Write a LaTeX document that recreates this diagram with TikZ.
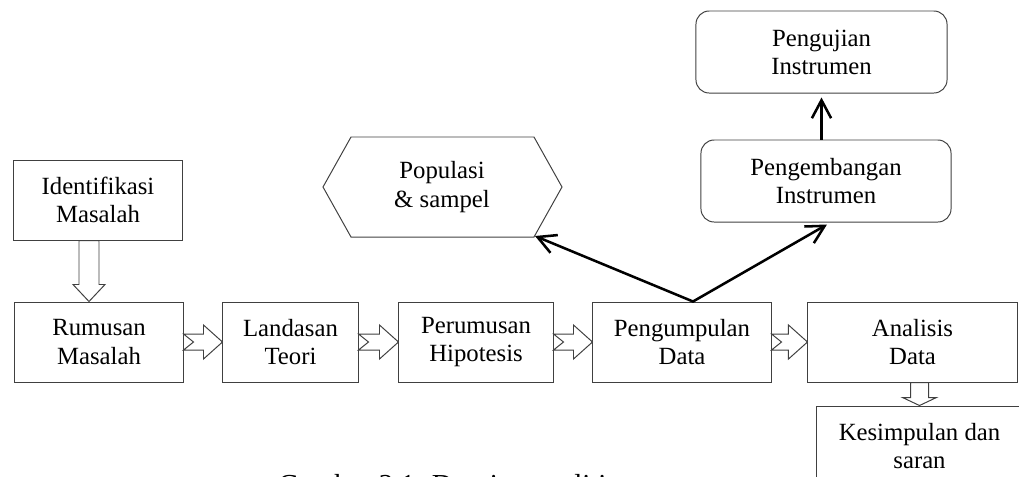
\documentclass[tikz,border=0pt]{standalone}
\usepackage{fontspec}
\setmainfont{Liberation Serif}
\usetikzlibrary{arrows.meta,calc}

% hollow block arrow with notched tail, from east of #1 to west of #2
\newcommand{\panahkanan}[2]{%
  \draw[blok] ($(#1.east)+(0,-8)$) -- ($(#2.west)+(-19,-8)$) -- ++(0,-9) -- (#2.west)
    -- ($(#2.west)+(-19,17)$) -- ++(0,-9) -- ($(#1.east)+(0,8)$) -- ($(#1.east)+(10,0)$) -- cycle;}

\begin{document}
\begin{tikzpicture}[x=0.025cm,y=-0.025cm,
  kotak/.style={draw=black!75,line width=0.7pt,inner sep=0pt,align=center,
    minimum height=2cm,font=\fontsize{17.6}{20}\selectfont},
  bulat/.style={kotak,rounded corners=0.33cm,minimum height=2.05cm},
  blok/.style={draw=black!75,line width=0.7pt,fill=white},
  panah/.style={-{Straight Barb[length=4.5mm,width=4.8mm]},line width=1.8pt},
  panahdua/.style={{Straight Barb[length=4.5mm,width=4.8mm]}-{Straight Barb[length=4.5mm,width=4.8mm]},line width=1.8pt}]
  \useasboundingbox (0,0) rectangle (1019,476);

  \node[kotak,minimum width=4.2cm] (id) at (98,200) {Identifikasi\\Masalah};
  \node[kotak,minimum width=4.2cm] (rm) at (99,342) {Rumusan\\Masalah};
  \node[kotak,minimum width=3.375cm] (lt) at (290.5,342) {Landasan\\Teori};
  \node[kotak,minimum width=3.85cm] (ph) at (476,342) {Perumusan\\Hipotesis};
  \node[kotak,minimum width=4.45cm] (pd) at (682,342) {Pengumpulan\\Data};
  \node[kotak,minimum width=5.225cm] (ad) at (912.5,342) {Analisis\\Data};
  \node[kotak,minimum width=5.125cm] (ks) at (919.5,446) {Kesimpulan dan\\saran};
  \node[bulat,minimum width=6.25cm] (pi) at (826,181) {Pengembangan\\Instrumen};
  \node[bulat,minimum width=6.275cm] (pu) at (821.5,52) {Pengujian\\Instrumen};

  % hexagon
  \node[align=center,font=\fontsize{17.6}{20}\selectfont] (pop) at (442,187) {Populasi\\\& sampel};
  \draw[black!75,line width=0.7pt] ($(pop)+(-119,0)$) -- ++(28,-50) -- ++(183,0) -- ++(28,50)
    -- ++(-28,50) -- ++(-183,0) -- cycle;
  \coordinate (popsudut) at ($(pop)+(93,49)$);

  % block arrows
  \panahkanan{rm}{lt}
  \panahkanan{lt}{ph}
  \panahkanan{ph}{pd}
  \panahkanan{pd}{ad}
  \coordinate (t1) at ($(rm.north)+(-10,0)$);
  \draw[blok] ($(t1 |- id.south)+(-10,0)$) -- ($(t1)+(-10,-17)$) -- ++(-6,0) -- (t1)
    -- ($(t1)+(16,-17)$) -- ++(-6,0) -- ($(t1 |- id.south)+(10,0)$) -- cycle;
  \coordinate (t2) at (ks.north);
  \draw[blok] ($(t2 |- ad.south)+(-9,0)$) -- ($(t2)+(-9,-8)$) -- ++(-8,0) -- (t2)
    -- ($(t2)+(17,-8)$) -- ++(-8,0) -- ($(t2 |- ad.south)+(9,0)$) -- cycle;

  % arrows
  \coordinate (puncak) at ($(pd.north)+(11,0)$);
  \draw[panahdua] (popsudut) -- (puncak) -- ($(pi.south)+(1,2)$);
  \draw[panah] (pu.south |- pi.north) -- ($(pu.south)+(0,4)$);

  \node[anchor=base west,inner sep=0pt,font=\fontsize{20.6}{24}\selectfont] (judul) at (278,494)
    {Gambar 2.1. Desain penelitian};
\end{tikzpicture}
\end{document}
